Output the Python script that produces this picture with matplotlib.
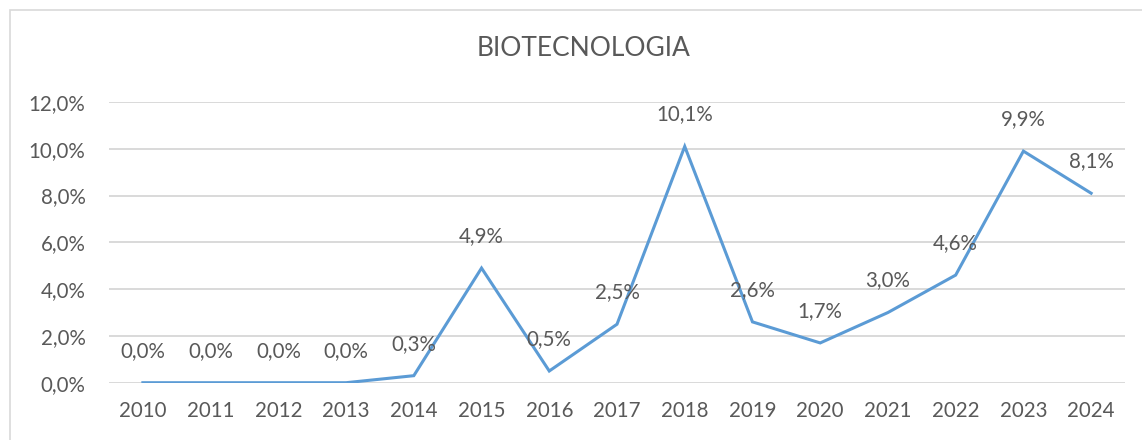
import matplotlib
matplotlib.use("Agg")
import matplotlib.pyplot as plt
from matplotlib.patches import Rectangle

years = ["2010", "2011", "2012", "2013", "2014", "2015", "2016", "2017",
         "2018", "2019", "2020", "2021", "2022", "2023", "2024"]
values = [0.0, 0.0, 0.0, 0.0, 0.3, 4.9, 0.5, 2.5, 10.1, 2.6, 1.7, 3.0, 4.6, 9.9, 8.1]
yticks = [0, 2, 4, 6, 8, 10, 12]
title = "BIOTECNOLOGIA"

W, H = 1142, 440
plt.rcParams['font.family'] = ['Lato', 'DejaVu Sans']
text_color = "#595959"
line_color = "#5B9BD5"
grid_color = "#D9D9D9"

fig = plt.figure(figsize=(W / 100, H / 100), dpi=100)
fig.patch.set_facecolor("white")

# chart border (cropped at right and bottom)
fig.add_artist(Rectangle((10 / W, -0.1), 2.0, (H - 10) / H + 0.1, transform=fig.transFigure,
                         fill=False, edgecolor=grid_color, linewidth=1.2))

left, right = 109, 1125
top, bottom = 102, 382.7
ax = fig.add_axes([left / W, 1 - bottom / H, (right - left) / W, (bottom - top) / H])
x = list(range(len(years)))
ax.plot(x, values, color=line_color, linewidth=2.2, solid_joinstyle='miter', zorder=3)
ax.set_xlim(-0.5, len(years) - 0.5)
ax.set_ylim(0, 12)
ax.set_yticks(yticks)
ax.set_yticklabels([f"{t:.1f}%".replace(".", ",") for t in yticks])
ax.set_xticks(x)
ax.set_xticklabels(years)
ax.tick_params(axis='both', length=0, labelsize=14.8, colors=text_color)
ax.tick_params(axis='y', pad=17)
ax.tick_params(axis='x', pad=13)
for s in ax.spines.values():
    s.set_visible(False)
ax.grid(axis='y', color=grid_color, linewidth=1.4)
ax.set_axisbelow(True)

for xi, v in zip(x, values):
    ax.annotate(f"{v:.1f}%".replace(".", ","), (xi, v), xytext=(0, 23), textcoords='offset points',
                ha='center', va='center', fontsize=14.8, color=text_color, zorder=4)

fig.text(584 / W, 1 - 49 / H, title, ha='center', va='center', fontsize=19, color=text_color)

fig.savefig("out.png", dpi=100, facecolor="white")
